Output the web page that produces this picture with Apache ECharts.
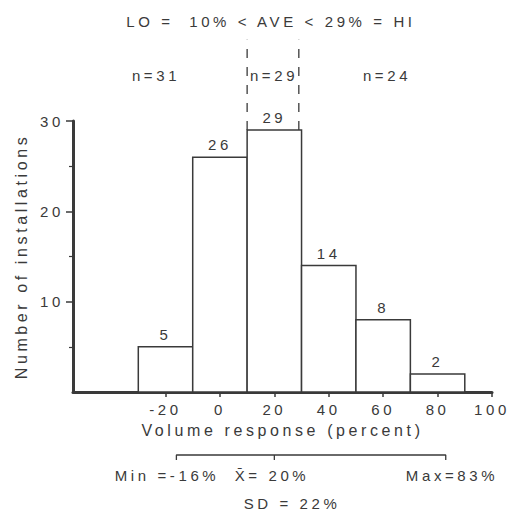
<!DOCTYPE html>
<html>
<head>
<meta charset="utf-8">
<script src="https://cdn.jsdelivr.net/npm/echarts@6/dist/echarts.min.js"></script>
<style>
  html, body { margin: 0; padding: 0; background: #fff; }
  #main { width: 515px; height: 510px; }
  #main text { letter-spacing: 3.6px; }
</style>
</head>
<body>
<div id="main"></div>
<script>
// ---- data ----
const binStart = [-30, -10, 10, 30, 50, 70];
const binEnd   = [-10, 10, 30, 50, 70, 90];
const counts   = [5, 26, 29, 14, 8, 2];
const xTickValues = [-20, 0, 20, 40, 60, 80, 100];
const yTickValues = [10, 20, 30];
const cutoffs = [10, 29];           // LO, HI
const groupLabels = ['n=31', 'n=29', 'n=24'];
const statMin = -16, statMean = 20, statMax = 83;
const titleText = 'LO =  10% < AVE < 29% = HI';
const statLabels = ['Min =-16%', 'X\u0304= 20%', 'Max=83%', 'SD = 22%'];

const ink = '#3a3a3a';
const font = '"Liberation Sans", Arial, sans-serif';

const chart = echarts.init(document.getElementById('main'), null, { renderer: 'svg' });

const histData = binStart.map((s, i) => [s, binEnd[i], counts[i]]);

const dashedSeries = cutoffs.map(c => ({
  type: 'line',
  xAxisIndex: 0, yAxisIndex: 0,
  data: [[c, 29], [c, 39]],
  symbol: 'none',
  clip: false,
  silent: true,
  lineStyle: { color: ink, width: 1.3, type: [9, 9] },
  z: 1
}));

function txt(text, x, y, size) {
  return { type: 'text', x: x, y: y,
    style: { text: text, fill: ink, font: (size || 15) + 'px ' + font, align: 'center', verticalAlign: 'middle' } };
}

chart.setOption({
  backgroundColor: '#fff',
  animation: false,
  textStyle: { fontFamily: font, color: ink },
  grid: [
    { left: 73, right: 23, top: 121, bottom: 118 },
    { left: 73, right: 23, top: 455, height: 5 }
  ],
  xAxis: [
    {
      type: 'value', gridIndex: 0, min: -54, max: 100,
      splitLine: { show: false },
      axisLine: { onZero: false, lineStyle: { color: ink, width: 3 } },
      axisTick: { customValues: xTickValues, length: 5, lineStyle: { color: ink, width: 1.5 } },
      axisLabel: { customValues: xTickValues, color: ink, fontSize: 15, margin: 10 },
      name: 'Volume response (percent)', nameLocation: 'middle', nameGap: 30,
      nameTextStyle: { color: ink, fontSize: 16 }
    },
    { type: 'value', gridIndex: 1, min: -54, max: 100, show: false }
  ],
  yAxis: [
    {
      type: 'value', gridIndex: 0, min: 0, max: 30, interval: 10,
      splitLine: { show: false },
      axisLine: { show: true, onZero: false, lineStyle: { color: ink, width: 3 } },
      axisTick: { show: true, customValues: yTickValues, length: 7, lineStyle: { color: ink, width: 1.5 } },
      minorTick: { show: true, splitNumber: 2, length: 4, lineStyle: { color: ink, width: 1.2 } },
      axisLabel: { customValues: yTickValues, color: ink, fontSize: 15, margin: 9 },
      name: 'Number of installations', nameLocation: 'middle', nameRotate: 90, nameGap: 44,
      nameTextStyle: { color: ink, fontSize: 16 }
    },
    { type: 'value', gridIndex: 1, min: 0, max: 1, show: false }
  ],
  series: [
    {
      type: 'custom',
      xAxisIndex: 0, yAxisIndex: 0,
      data: histData,
      encode: { x: [0, 1], y: 2 },
      z: 3,
      renderItem: function (params, api) {
        const x0 = api.value(0), x1 = api.value(1), v = api.value(2);
        const p0 = api.coord([x0, v]);
        const p1 = api.coord([x1, 0]);
        return {
          type: 'group',
          children: [
            { type: 'rect',
              shape: { x: p0[0], y: p0[1], width: p1[0] - p0[0], height: p1[1] - p0[1] },
              style: { fill: '#fff', stroke: ink, lineWidth: 1.5 } },
            { type: 'text',
              style: { text: String(v), x: (p0[0] + p1[0]) / 2, y: p0[1] - 5,
                       align: 'center', verticalAlign: 'bottom', fill: ink, font: '15px ' + font } }
          ]
        };
      }
    },
    ...dashedSeries,
    {
      type: 'line', xAxisIndex: 1, yAxisIndex: 1,
      data: [[statMin, 0], [statMin, 1], [statMax, 1], [statMax, 0]],
      symbol: 'none', clip: false, silent: true,
      lineStyle: { color: ink, width: 1.3 }
    },
    {
      type: 'line', xAxisIndex: 1, yAxisIndex: 1,
      data: [[statMean, 1], [statMean, 0]],
      symbol: 'none', clip: false, silent: true,
      lineStyle: { color: ink, width: 1.3 }
    }
  ],
  graphic: [
    txt(titleText, 271, 21, 15),
    txt(groupLabels[0], 156, 75, 15),
    txt(groupLabels[1], 274, 75, 15),
    txt(groupLabels[2], 387, 75, 15),
    txt(statLabels[0], 167, 475, 15),
    txt(statLabels[1], 272, 475, 15),
    txt(statLabels[2], 452, 475, 15),
    txt(statLabels[3], 292, 503, 15)
  ]
});
</script>
</body>
</html>
